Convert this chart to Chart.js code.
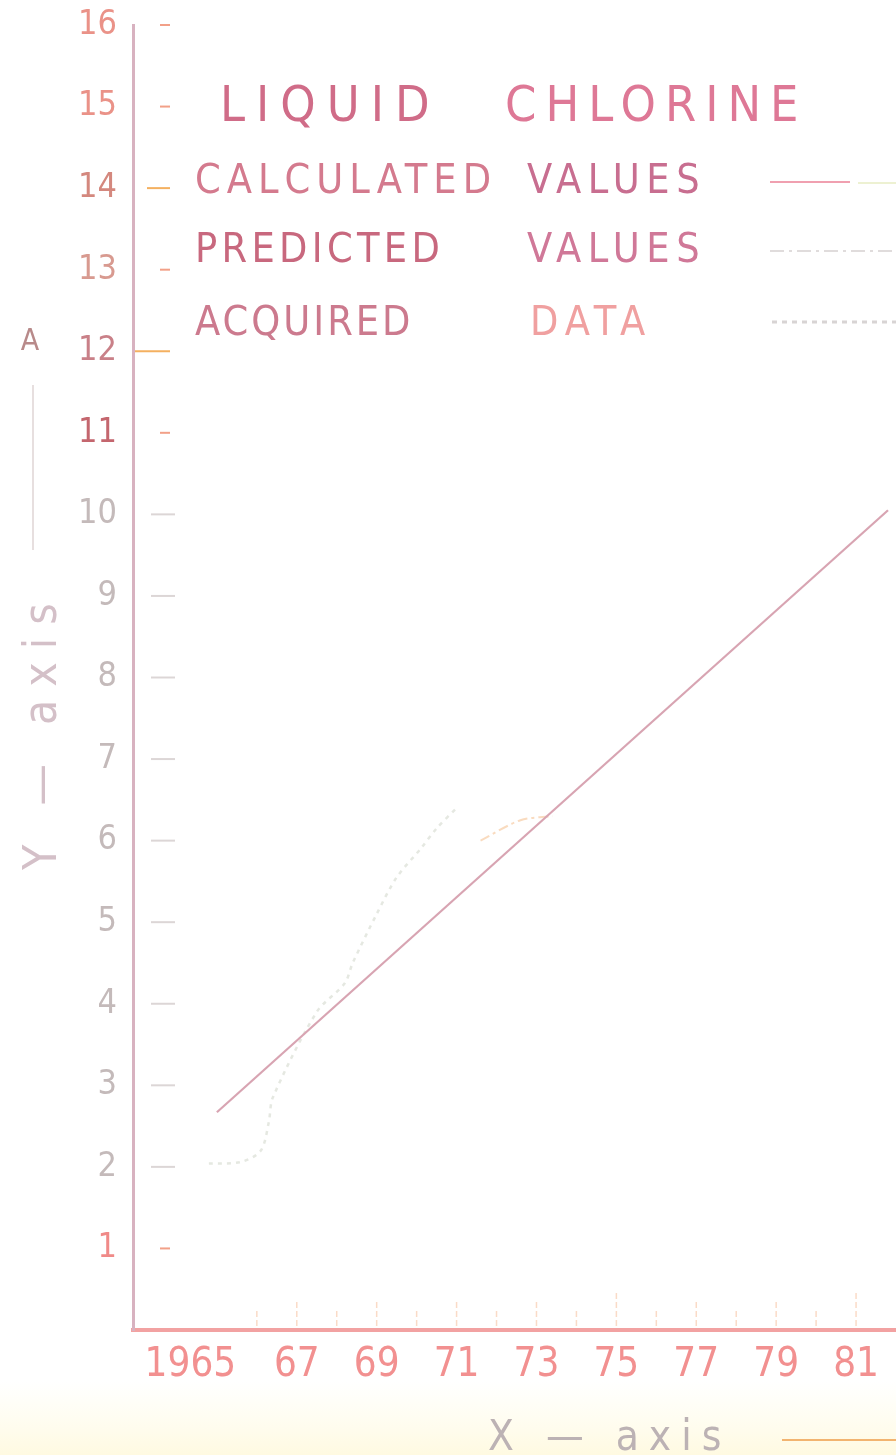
<!DOCTYPE html>
<html><head><meta charset="utf-8">
<script src="https://cdn.jsdelivr.net/npm/chart.js@4/dist/chart.umd.min.js"></script>
<style>html,body{margin:0;padding:0;background:#fff;}canvas{display:block}</style>
</head><body>
<canvas id="c" width="896" height="1455"></canvas>
<script>
// ---- data ----
const titleWords = ['LIQUID', 'CHLORINE'];
const legendRows = [['CALCULATED', 'VALUES'], ['PREDICTED', 'VALUES'], ['ACQUIRED', 'DATA']];
const xTickYears = [1965, 1967, 1969, 1971, 1973, 1975, 1977, 1979, 1981];
const xTickLabels = ['1965', '67', '69', '71', '73', '75', '77', '79', '81'];
const yTickValues = [1, 2, 3, 4, 5, 6, 7, 8, 9, 10, 11, 12, 13, 14, 15, 16];
const calcYears = [1965, 1981.8];
const calcValues = [2.67, 10.05];
const predYears = [1971.6, 1972.6, 1973.4];
const predValues = [6.0, 6.25, 6.3];
const acqYears = [1964.8, 1965.6, 1966.1, 1966.3, 1966.4, 1967.5, 1968.2, 1968.4, 1969.0, 1969.5, 1970.1, 1970.5, 1971.0];
const acqValues = [2.04, 2.06, 2.2, 2.55, 2.85, 3.9, 4.25, 4.5, 5.1, 5.55, 5.9, 6.15, 6.4];
const xAxisTitle = 'X — axis';
const yAxisTitle = 'Y — axis';

const FONT = "'Liberation Sans Narrow','DejaVu Sans Condensed','Liberation Sans',sans-serif";
const pts = (xs, ys) => xs.map((x, i) => ({x, y: ys[i]}));

function yTickColor(v) {
  if (v >= 11) return ({16:'#ea9288',15:'#ea9288',14:'#d4887e',13:'#d89a90',12:'#c98088',11:'#c4666e'})[v];
  if (v === 1) return '#f08a88';
  return '#c4baba';
}

const decor = {
  id: 'decor',
  beforeDraw(chart) {
    const ctx = chart.ctx;
    ctx.save();
    ctx.fillStyle = '#ffffff';
    ctx.fillRect(0, 0, chart.width, chart.height);
    const g = ctx.createLinearGradient(0, 1380, 0, 1455);
    g.addColorStop(0, 'rgba(255,252,232,0)');
    g.addColorStop(1, 'rgba(255,250,225,1)');
    ctx.fillStyle = g;
    ctx.fillRect(0, 1380, chart.width, 75);
    ctx.restore();
  },
  afterDraw(chart) {
    const ctx = chart.ctx;
    const xs = chart.scales.x, ys = chart.scales.y;
    const ca = chart.chartArea;
    ctx.save();
    // y tick dashes inside the plot
    yTickValues.forEach(v => {
      const py = ys.getPixelForValue(v);
      ctx.beginPath();
      ctx.lineWidth = 2;
      if (v === 12 || v === 14) { ctx.strokeStyle = '#f4b060'; ctx.moveTo(ca.left + (v === 12 ? 2 : 14), py); ctx.lineTo(ca.left + 37, py); }
      else if (v >= 11 || v === 1) { ctx.strokeStyle = '#f2a088'; ctx.moveTo(ca.left + 27, py); ctx.lineTo(ca.left + 37, py); }
      else { ctx.strokeStyle = '#dcd6d6'; ctx.moveTo(ca.left + 18, py); ctx.lineTo(ca.left + 42, py); }
      ctx.stroke();
    });
    // yearly marks standing on the x axis
    for (let yr = 1966; yr <= 1981; yr++) {
      const px = xs.getPixelForValue(yr);
      const len = (yr === 1975 || yr === 1981) ? 34 : (yr % 2 ? 24 : 16);
      ctx.beginPath();
      ctx.strokeStyle = 'rgba(245,175,130,0.45)';
      ctx.lineWidth = 1.5;
      ctx.setLineDash([6, 3]);
      ctx.moveTo(px, ca.bottom - 4);
      ctx.lineTo(px, ca.bottom - 4 - len);
      ctx.stroke();
    }
    ctx.setLineDash([]);
    // title
    ctx.textBaseline = 'alphabetic';
    ctx.textAlign = 'left';
    ctx.font = '50px ' + FONT;
    ctx.letterSpacing = '11px';
    ctx.fillStyle = '#d06c88';
    ctx.fillText(titleWords[0], 220, 121);
    ctx.fillStyle = '#de7896';
    ctx.letterSpacing = '9px';
    ctx.fillText(titleWords[1], 505, 121);
    // legend rows
    const rowBase = [193, 262, 335];
    const c1 = ['#d47a8e', '#c8687e', '#cc7a8e'];
    const c2 = ['#c86e90', '#d07898', '#f0a0a0'];
    const sp1 = ['6px', '4.3px', '3px'];
    const sp2 = ['6.5px', '6.5px', '7px'];
    ctx.font = '41px ' + FONT;
    legendRows.forEach((r, i) => {
      ctx.letterSpacing = sp1[i];
      ctx.fillStyle = c1[i];
      ctx.fillText(r[0], 195, rowBase[i]);
      ctx.fillStyle = c2[i];
      ctx.letterSpacing = sp2[i];
      ctx.fillText(r[1], i === 2 ? 530 : 527, rowBase[i]);
    });
    ctx.letterSpacing = '0px';
    // legend samples
    ctx.lineWidth = 2;
    ctx.strokeStyle = '#f0a0b0';
    ctx.beginPath(); ctx.moveTo(770, 182); ctx.lineTo(850, 182); ctx.stroke();
    ctx.strokeStyle = 'rgba(235,240,205,0.9)';
    ctx.beginPath(); ctx.moveTo(858, 183); ctx.lineTo(896, 183); ctx.stroke();
    ctx.strokeStyle = '#e0dcdc';
    ctx.setLineDash([14, 5, 3, 5]);
    ctx.beginPath(); ctx.moveTo(770, 251); ctx.lineTo(896, 251); ctx.stroke();
    ctx.strokeStyle = '#d8d4d4';
    ctx.setLineDash([5, 5]);
    ctx.lineWidth = 3;
    ctx.beginPath(); ctx.moveTo(772, 322); ctx.lineTo(896, 322); ctx.stroke();
    ctx.setLineDash([]);
    // x axis title
    ctx.font = '42px ' + FONT;
    ctx.fillStyle = '#bcb2b4';
    ctx.letterSpacing = '10px';
    ctx.fillText(xAxisTitle, 488, 1450);
    ctx.letterSpacing = '0px';
    ctx.strokeStyle = '#f2b470';
    ctx.lineWidth = 2;
    ctx.beginPath(); ctx.moveTo(782, 1440); ctx.lineTo(896, 1440); ctx.stroke();
    // y axis title (rotated)
    ctx.save();
    ctx.translate(56, 870);
    ctx.rotate(-Math.PI / 2);
    ctx.font = '46px ' + FONT;
    ctx.fillStyle = '#d4c0c8';
    ctx.letterSpacing = '13px';
    ctx.fillText(yAxisTitle, 0, 0);
    ctx.restore();
    ctx.strokeStyle = 'rgba(225,215,215,0.8)';
    ctx.lineWidth = 2;
    ctx.beginPath(); ctx.moveTo(33, 385); ctx.lineTo(33, 550); ctx.stroke();
    ctx.font = '30px ' + FONT;
    ctx.fillStyle = '#b88a8a';
    ctx.textAlign = 'center';
    ctx.fillText('A', 30, 350);
    ctx.restore();
  }
};

new Chart(document.getElementById('c'), {
  type: 'line',
  data: {
    datasets: [
      { label: 'CALCULATED VALUES', data: pts(calcYears, calcValues), borderColor: '#d8a4b2', borderWidth: 2.2, pointRadius: 0, tension: 0 },
      { label: 'PREDICTED VALUES', data: pts(predYears, predValues), borderColor: 'rgba(248,210,175,0.8)', borderWidth: 2, borderDash: [10, 4, 3, 4], pointRadius: 0, tension: 0.3 },
      { label: 'ACQUIRED DATA', data: pts(acqYears, acqValues), borderColor: 'rgba(225,228,220,0.85)', borderWidth: 2.5, borderDash: [4, 5], pointRadius: 0, tension: 0.3 }
    ]
  },
  options: {
    responsive: false,
    animation: false,
    layout: { padding: { top: 25, right: 0, left: 0, bottom: 0 } },
    plugins: { legend: { display: false }, tooltip: { enabled: false } },
    scales: {
      x: {
        type: 'linear', min: 1962.9, max: 1982.0,
        afterBuildTicks: s => { s.ticks = xTickYears.map(v => ({value: v})); },
        afterFit: s => { s.height = 125; },
        grid: { display: false },
        border: { display: true, color: '#f2a2a2', width: 4 },
        ticks: {
          autoSkip: false, maxRotation: 0, padding: 4,
          color: '#f29090',
          font: { family: FONT, size: 40 },
          callback: (v, i) => i === 0 ? xTickLabels[i] + '\u2007\u2007\u2009' : xTickLabels[i]
        }
      },
      y: {
        type: 'linear', min: 0, max: 16,
        afterBuildTicks: s => { s.ticks = yTickValues.map(v => ({value: v})); },
        afterFit: s => { s.width = 133; s.paddingTop = 0; },
        grid: { display: false, drawTicks: false },
        border: { display: true, color: '#d8b2c0', width: 3 },
        ticks: {
          padding: 16,
          color: c => yTickColor(c.tick.value),
          font: { family: FONT, size: 34, lineHeight: 0.4 },
          callback: v => String(v)
        }
      }
    }
  },
  plugins: [decor]
});
</script>
</body></html>
